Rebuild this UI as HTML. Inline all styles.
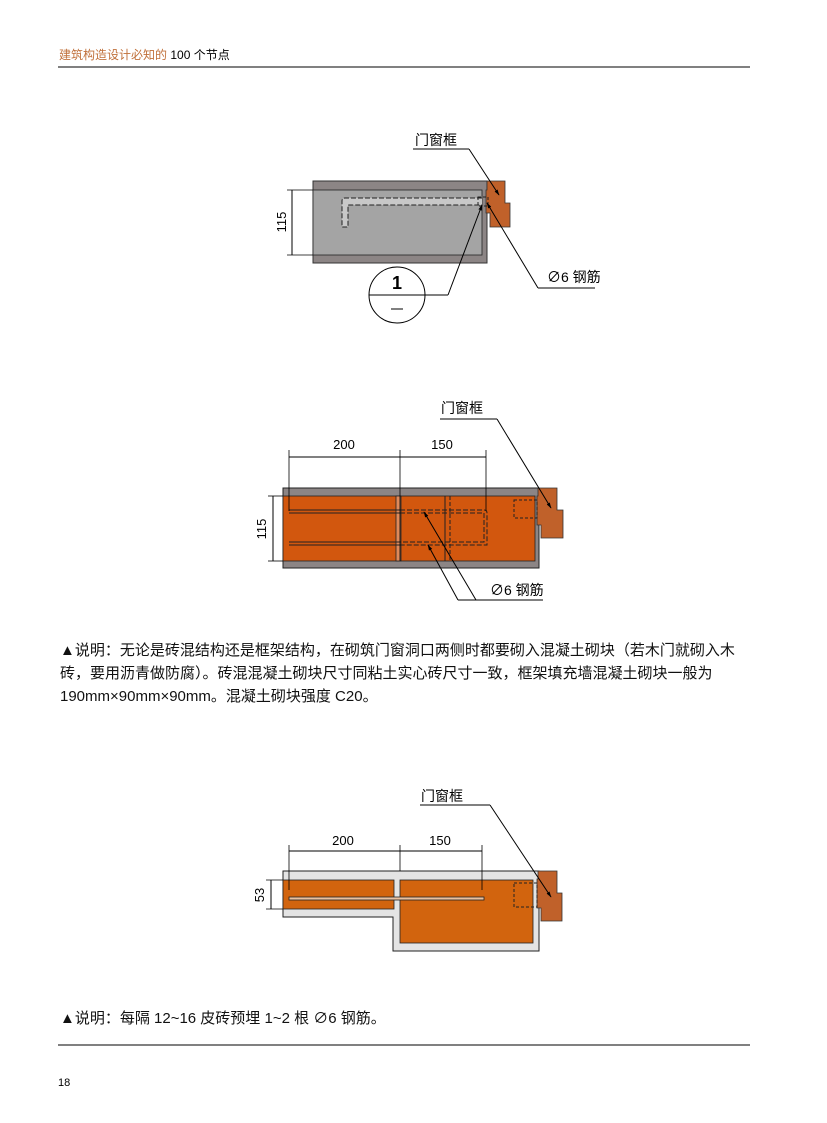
<!DOCTYPE html>
<html><head><meta charset="utf-8"><style>
html,body{margin:0;padding:0;background:#fff;}
svg{display:block;font-family:"Liberation Sans","Noto Sans CJK SC",sans-serif;}
</style></head><body>
<svg width="827" height="1123" viewBox="0 0 827 1123" xmlns="http://www.w3.org/2000/svg">
<defs><marker id="ah" viewBox="0 0 10 10" refX="9" refY="5" markerWidth="6" markerHeight="6" orient="auto"><path d="M0,2 L10,5 L0,8 z" fill="#000"/></marker></defs>
<!-- header -->
<text x="59" y="59" font-size="12" fill="#c0703a">建筑构造设计必知的 <tspan fill="#000">100 个节点</tspan></text>
<line x1="58" y1="67" x2="750" y2="67" stroke="#000" stroke-width="1"/>

<!-- Diagram 1 -->
<rect x="313" y="181" width="174" height="82" fill="#8c8585" stroke="#333" stroke-width="1"/>
<rect x="313" y="190" width="169" height="65" fill="#a4a4a4" stroke="#222" stroke-width="0.8"/>
<polygon points="487,181 505,181 505,203 510,203 510,227 490,227 490,213 486,213 486,190 487,190" fill="#c0612a" stroke="#333" stroke-width="0.8"/>
<path d="M482,198 L345,198 Q342,198 342,201 L342,227 L348,227 L348,205 L482,205" fill="#c8c8c8" stroke="#222" stroke-width="1" stroke-dasharray="5,2"/>
<rect x="478" y="197" width="10" height="9" fill="none" stroke="#222" stroke-dasharray="3,2"/>
<line x1="292" y1="190" x2="292" y2="255" stroke="#000"/>
<line x1="287" y1="190" x2="313" y2="190" stroke="#000" stroke-width="0.8"/>
<line x1="287" y1="255" x2="313" y2="255" stroke="#000" stroke-width="0.8"/>
<text transform="translate(286,222) rotate(-90)" font-size="13" text-anchor="middle">115</text>
<circle cx="397" cy="295" r="28" fill="none" stroke="#000"/>
<line x1="369" y1="295" x2="448" y2="295" stroke="#000"/>
<line x1="448" y1="295" x2="482" y2="205" stroke="#000" marker-end="url(#ah)"/>
<text x="397" y="289" font-size="18" font-weight="bold" text-anchor="middle">1</text>
<line x1="391" y1="309" x2="403" y2="309" stroke="#000"/>
<text x="415" y="145" font-size="14">门窗框</text>
<line x1="413" y1="149" x2="469" y2="149" stroke="#000"/>
<line x1="469" y1="149" x2="499" y2="195" stroke="#000" marker-end="url(#ah)"/>
<text x="547" y="282" font-size="14">∅6 钢筋</text>
<line x1="538" y1="288" x2="595" y2="288" stroke="#000"/>
<line x1="538" y1="288" x2="487" y2="203" stroke="#000" marker-end="url(#ah)"/>

<!-- Diagram 2 -->
<rect x="283" y="488" width="256" height="80" fill="#8c8585" stroke="#222"/>
<rect x="283" y="496" width="252" height="65" fill="#d2570e" stroke="#222" stroke-width="0.8"/>
<rect x="396" y="496" width="5" height="65" fill="#e08a5a" stroke="#222" stroke-width="0.8"/>
<line x1="445" y1="496" x2="445" y2="561" stroke="#222"/>
<line x1="450" y1="496" x2="450" y2="561" stroke="#222" stroke-dasharray="4,2"/>
<polygon points="538,488 557,488 557,510 563,510 563,538 541,538 541,525 537,525 537,496 538,496" fill="#c0612a" stroke="#333" stroke-width="0.8"/>
<rect x="514" y="500" width="23" height="18" fill="none" stroke="#222" stroke-dasharray="3,2"/>
<path d="M289,510 L400,510" fill="none" stroke="#222"/>
<path d="M289,513 L400,513" fill="none" stroke="#222"/>
<path d="M400,510 L484,510 Q487,510 487,513 L487,545 L400,545" fill="none" stroke="#222" stroke-dasharray="5,2"/>
<path d="M400,513 L484,513 L484,542 L400,542" fill="none" stroke="#222" stroke-dasharray="5,2"/>
<path d="M289,542 L400,542 M289,545 L400,545" stroke="#222"/>
<line x1="289" y1="457" x2="486" y2="457" stroke="#000"/>
<line x1="289" y1="450" x2="289" y2="511" stroke="#000" stroke-width="0.8"/>
<line x1="400" y1="450" x2="400" y2="561" stroke="#000" stroke-width="0.8"/>
<line x1="486" y1="450" x2="486" y2="511" stroke="#000" stroke-width="0.8"/>
<text x="344" y="449" font-size="13" text-anchor="middle">200</text>
<text x="442" y="449" font-size="13" text-anchor="middle">150</text>
<line x1="273" y1="496" x2="273" y2="561" stroke="#000"/>
<line x1="268" y1="496" x2="283" y2="496" stroke="#000" stroke-width="0.8"/>
<line x1="268" y1="561" x2="283" y2="561" stroke="#000" stroke-width="0.8"/>
<text transform="translate(266,529) rotate(-90)" font-size="13" text-anchor="middle">115</text>
<text x="441" y="413" font-size="14">门窗框</text>
<line x1="440" y1="419" x2="497" y2="419" stroke="#000"/>
<line x1="497" y1="419" x2="551" y2="508" stroke="#000" marker-end="url(#ah)"/>
<text x="490" y="595" font-size="14">∅6 钢筋</text>
<line x1="458" y1="600" x2="543" y2="600" stroke="#000"/>
<line x1="476" y1="600" x2="424" y2="512" stroke="#000" marker-end="url(#ah)"/>
<line x1="458" y1="600" x2="428" y2="545" stroke="#000" marker-end="url(#ah)"/>

<!-- Text 1 -->
<g font-size="15" fill="#111">
<text x="60" y="655">▲说明：无论是砖混结构还是框架结构，在砌筑门窗洞口两侧时都要砌入混凝土砌块（若木门就砌入木</text>
<text x="60" y="678">砖，要用沥青做防腐）。砖混混凝土砌块尺寸同粘土实心砖尺寸一致，框架填充墙混凝土砌块一般为</text>
<text x="60" y="701">190mm×90mm×90mm。混凝土砌块强度 C20。</text>
</g>

<!-- Diagram 3 -->
<polygon points="283,871 539,871 539,951 393,951 393,917 283,917" fill="#e4e4e4" stroke="#222"/>
<rect x="283" y="880" width="111" height="29" fill="#d2640e" stroke="#222" stroke-width="0.8"/>
<rect x="400" y="880" width="133" height="63" fill="#d2640e" stroke="#222" stroke-width="0.8"/>
<polygon points="538,871 557,871 557,893 562,893 562,921 541,921 541,908 537,908 537,879 538,879" fill="#c0612a" stroke="#333" stroke-width="0.8"/>
<rect x="514" y="883" width="23" height="24" fill="none" stroke="#222" stroke-dasharray="3,2"/>
<rect x="289" y="897" width="195" height="3" fill="#e8c0a0" stroke="#222" stroke-width="0.8"/>
<line x1="289" y1="851" x2="482" y2="851" stroke="#000"/>
<line x1="289" y1="845" x2="289" y2="890" stroke="#000" stroke-width="0.8"/>
<line x1="400" y1="845" x2="400" y2="871" stroke="#000" stroke-width="0.8"/>
<line x1="482" y1="845" x2="482" y2="890" stroke="#000" stroke-width="0.8"/>
<text x="343" y="845" font-size="13" text-anchor="middle">200</text>
<text x="440" y="845" font-size="13" text-anchor="middle">150</text>
<line x1="271" y1="880" x2="271" y2="909" stroke="#000"/>
<line x1="266" y1="880" x2="283" y2="880" stroke="#000" stroke-width="0.8"/>
<line x1="266" y1="909" x2="283" y2="909" stroke="#000" stroke-width="0.8"/>
<text transform="translate(264,895) rotate(-90)" font-size="13" text-anchor="middle">53</text>
<text x="421" y="801" font-size="14">门窗框</text>
<line x1="420" y1="805" x2="490" y2="805" stroke="#000"/>
<line x1="490" y1="805" x2="551" y2="897" stroke="#000" marker-end="url(#ah)"/>

<!-- Text 2 -->
<text x="60" y="1023" font-size="15" fill="#111">▲说明：每隔 12~16 皮砖预埋 1~2 根 ∅6 钢筋。</text>
<line x1="58" y1="1045" x2="750" y2="1045" stroke="#000"/>
<text x="58" y="1086" font-size="11">18</text>
</svg>
</body></html>
